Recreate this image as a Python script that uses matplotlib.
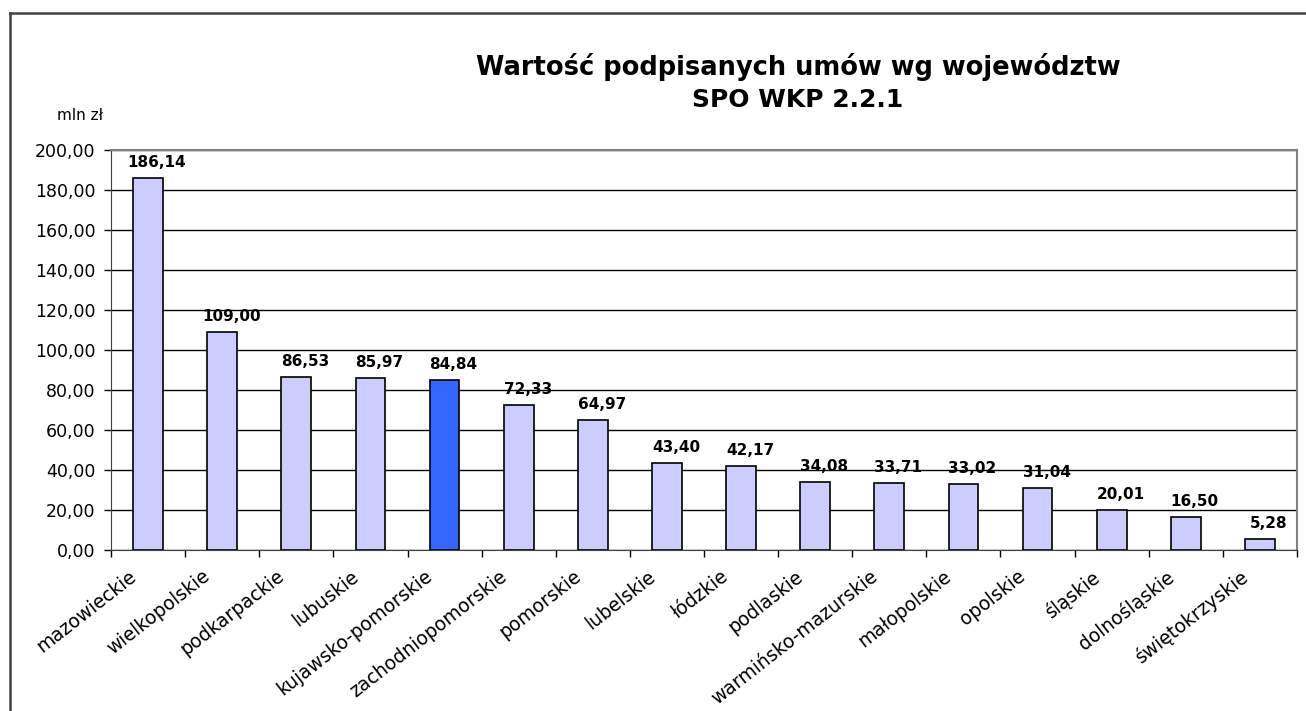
import matplotlib.pyplot as plt
from matplotlib.lines import Line2D
import matplotlib.transforms as mtransforms
import numpy as np

plt.rcParams['font.family'] = ['DejaVu Sans']

# Data
regions = ['mazowieckie', 'wielkopolskie', 'podkarpackie', 'lubuskie',
           'kujawsko-pomorskie', 'zachodniopomorskie', 'pomorskie', 'lubelskie',
           'łódzkie', 'podlaskie', 'warmińsko-mazurskie', 'małopolskie',
           'opolskie', 'śląskie', 'dolnośląskie', 'świętokrzyskie']
values = [186.14, 109.00, 86.53, 85.97, 84.84, 72.33, 64.97, 43.40,
          42.17, 34.08, 33.71, 33.02, 31.04, 20.01, 16.50, 5.28]
highlight = 'kujawsko-pomorskie'
yticks = [0, 20, 40, 60, 80, 100, 120, 140, 160, 180, 200]
title_lines = ['Wartość podpisanych umów wg województw', 'SPO WKP 2.2.1']

fig = plt.figure(figsize=(13.06, 7.11), dpi=100)
ax = fig.add_axes([0.085, 0.2264, 0.9081, 0.5626])

x = np.arange(len(regions))
colors = ['#3366FF' if r == highlight else '#CCCCFF' for r in regions]
ax.bar(x, values, width=0.4, color=colors, edgecolor='black', linewidth=1.2, zorder=3)

# value labels, nudged a little right like the original
lbl_shift = mtransforms.ScaledTranslation(9 / 100, 8 / 100, fig.dpi_scale_trans)
for xi, v in zip(x, values):
    ax.text(xi, v, f'{v:.2f}'.replace('.', ','), ha='center', va='bottom',
            fontsize=11, fontweight='bold', zorder=4,
            transform=ax.transData + lbl_shift)

ax.set_xlim(-0.5, len(regions) - 0.5)
ax.set_ylim(0, 200)
ax.set_yticks(yticks)
ax.set_yticklabels([f'{t:.2f}'.replace('.', ',') for t in yticks], fontsize=12.5)
ax.yaxis.grid(True, color='black', linewidth=1.0, zorder=0)
ax.set_axisbelow(True)

# category ticks between bars, labels at centers
ax.set_xticks(np.arange(-0.5, len(regions)), minor=False)
ax.set_xticklabels([''] * (len(regions) + 1))
ax.set_xticks(x, minor=True)
ax.set_xticklabels(regions, minor=True, rotation=38, ha='right',
                   rotation_mode='anchor', fontsize=13.5)
ax.tick_params(axis='x', which='minor', length=0, pad=12)
ax.tick_params(axis='x', which='major', length=5, width=1, direction='out')
ax.tick_params(axis='y', length=5, width=1, direction='out', pad=6)
tick_shift = mtransforms.ScaledTranslation(-20 / 100, 0, fig.dpi_scale_trans)
for lab in ax.get_xticklabels(minor=True):
    lab.set_transform(lab.get_transform() + tick_shift)

for side in ['top', 'right']:
    ax.spines[side].set_color('#808080')
    ax.spines[side].set_linewidth(1.5)
ax.spines['left'].set_color('#404040')
ax.spines['bottom'].set_color('#404040')

# title and unit label
fig.text(0.611, 0.8945, title_lines[0], ha='center', va='baseline',
         fontsize=18.5, fontweight='bold')
fig.text(0.611, 0.8495, title_lines[1], ha='center', va='baseline',
         fontsize=18, fontweight='bold')
fig.text(0.044, 0.838, 'mln zł', fontsize=11, va='center')

# outer frame (top and left edges visible)
fig.add_artist(Line2D([0.0077, 0.0077], [0.0, 0.9817], transform=fig.transFigure,
                      color='#404040', linewidth=1.8))
fig.add_artist(Line2D([0.0077, 1.0], [0.9817, 0.9817], transform=fig.transFigure,
                      color='#404040', linewidth=1.8))

fig.savefig('out.png', dpi=100, facecolor='white')
